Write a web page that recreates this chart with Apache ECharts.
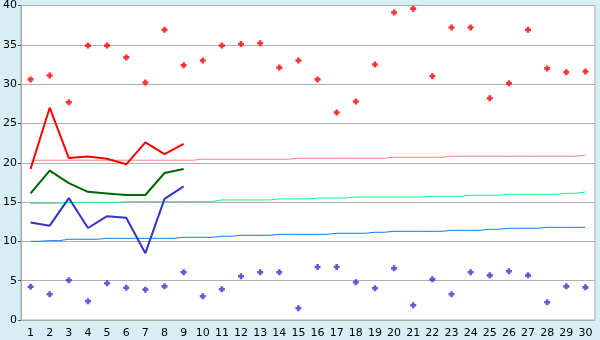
<!DOCTYPE html>
<html>
<head>
<meta charset="utf-8">
<script src="https://cdn.jsdelivr.net/npm/echarts@6/dist/echarts.min.js"></script>
<style>
html,body{margin:0;padding:0;background:#d8eef5;}
#c{width:600px;height:340px;}
</style>
</head>
<body>
<div id="c"></div>
<script>
var categories = [];
for (var i = 1; i <= 30; i++) categories.push(String(i));

var yTicks = { min: 0, max: 40, interval: 5 };

var redPoints = [30.6, 31.1, 27.7, 34.9, 34.9, 33.4, 30.2, 36.9, 32.4, 33.0,
                 34.9, 35.1, 35.2, 32.1, 33.0, 30.6, 26.4, 27.8, 32.5, 39.1,
                 39.6, 31.0, 37.2, 37.2, 28.2, 30.1, 36.9, 32.0, 31.5, 31.6];
var bluePoints = [4.24, 3.27, 5.05, 2.38, 4.67, 4.11, 3.86, 4.28, 6.07, 3.01,
                  3.90, 5.56, 6.07, 6.07, 1.49, 6.74, 6.74, 4.79, 4.03, 6.57,
                  1.87, 5.17, 3.27, 6.07, 5.68, 6.19, 5.68, 2.25, 4.28, 4.15];

var redLine = [19.2, 27.0, 20.6, 20.8, 20.5, 19.8, 22.6, 21.1, 22.4];
var greenLine = [16.1, 19.0, 17.4, 16.3, 16.1, 15.9, 15.9, 18.7, 19.2];
var blueLine = [12.4, 12.0, 15.5, 11.7, 13.2, 13.0, 8.5, 15.4, 17.0];

var pinkTrend = [20.32, 20.32, 20.32, 20.32, 20.32, 20.32, 20.32, 20.32, 20.32, 20.45,
                 20.45, 20.45, 20.45, 20.45, 20.57, 20.57, 20.57, 20.57, 20.57, 20.70,
                 20.70, 20.70, 20.83, 20.83, 20.83, 20.83, 20.83, 20.83, 20.83, 20.99];
var greenTrend = [14.85, 14.85, 14.97, 14.97, 14.97, 15.05, 15.05, 15.05, 15.05, 15.05,
                  15.27, 15.27, 15.27, 15.40, 15.40, 15.52, 15.52, 15.65, 15.65, 15.65,
                  15.65, 15.74, 15.74, 15.87, 15.87, 15.99, 15.99, 15.99, 16.12, 16.28];
var blueTrend = [10.01, 10.09, 10.27, 10.27, 10.39, 10.39, 10.39, 10.39, 10.52, 10.52,
                 10.65, 10.78, 10.78, 10.90, 10.90, 10.90, 11.03, 11.03, 11.16, 11.28,
                 11.28, 11.28, 11.41, 11.41, 11.54, 11.67, 11.67, 11.79, 11.79, 11.79];

var marker = 'path://M2,0H5V2H7V5H5V7H2V5H0V2H2Z';
var font = 'DejaVu Sans';

var chart = echarts.init(document.getElementById('c'), null, { renderer: 'canvas' });
function trend(data, color) {
  return { type: 'line', data: data, step: 'middle', symbol: 'none', silent: true,
           lineStyle: { color: color, width: 1 }, z: 2 };
}
function thick(data, color) {
  return { type: 'line', data: data, symbol: 'none', silent: true,
           lineStyle: { color: color, width: 2 }, z: 3 };
}
function pts(data, color) {
  return { type: 'scatter', data: data, symbol: marker, symbolSize: 6, silent: true,
           itemStyle: { color: color }, z: 4 };
}
chart.setOption({
  animation: false,
  backgroundColor: '#d8eef5',
  grid: { left: 20, right: 5, top: 5, bottom: 20, show: true, backgroundColor: '#ffffff',
          borderColor: '#aaaaaa', borderWidth: 1 },
  xAxis: {
    type: 'category', data: categories, boundaryGap: true,
    axisLine: { lineStyle: { color: '#aaaaaa' } },
    axisTick: { alignWithLabel: true, length: 5, lineStyle: { color: '#555555' } },
    axisLabel: { color: '#000', fontFamily: font, fontSize: 11, margin: 8, interval: 0 },
    splitLine: { show: false }
  },
  yAxis: {
    type: 'value', min: yTicks.min, max: yTicks.max, interval: yTicks.interval,
    axisLine: { show: true, lineStyle: { color: '#aaaaaa' } },
    axisTick: { show: true, length: 3, lineStyle: { color: '#555555' } },
    axisLabel: { color: '#000', fontFamily: font, fontSize: 11, margin: 4 },
    splitLine: { lineStyle: { color: '#b0b0b0' } }
  },
  series: [
    trend(pinkTrend, '#ff8080'),
    trend(greenTrend, '#00ff80'),
    trend(blueTrend, '#0a7af5'),
    thick(redLine, '#ff0000'),
    thick(greenLine, '#006600'),
    thick(blueLine, '#3333cc'),
    pts(redPoints, '#ff0000'),
    pts(bluePoints, '#3333cc')
  ]
});
</script>
</body>
</html>
